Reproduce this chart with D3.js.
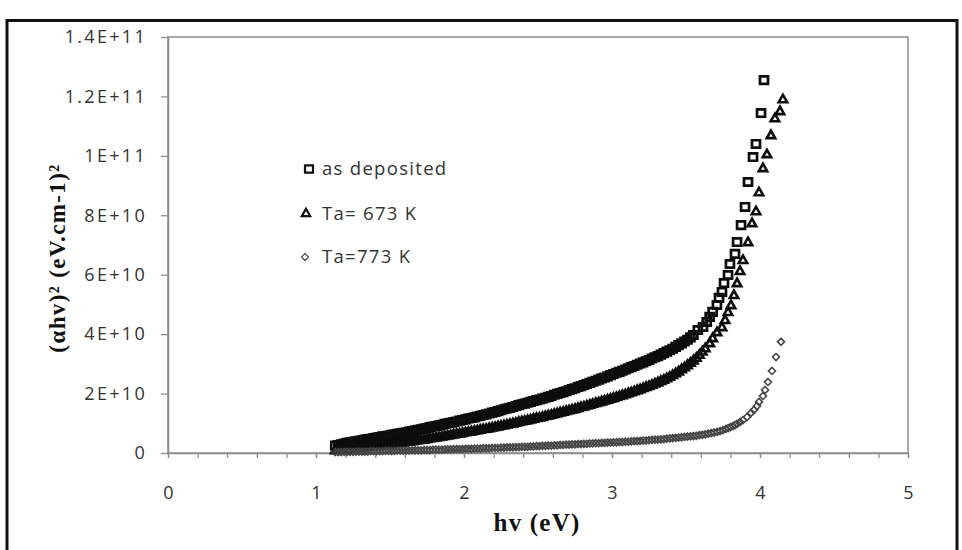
<!DOCTYPE html>
<html><head><meta charset="utf-8">
<script src="https://cdn.jsdelivr.net/npm/d3@7"></script>
<style>
html,body{margin:0;padding:0;background:#fff;}
svg{display:block;}
</style></head>
<body>
<svg id="c" width="962" height="550"></svg>
<script>
// ---- DATA (values in units of 1E+10 (eV.cm-1)^2) ----
const UNIT = 1e10;
const seriesNames = ["as deposited", "Ta= 673 K", "Ta=773 K"];
const hvDense = [
1.13,1.15,1.17,1.19,1.21,1.23,1.25,1.27,1.29,1.31,
1.33,1.35,1.37,1.39,1.41,1.43,1.45,1.47,1.49,1.51,
1.53,1.55,1.57,1.59,1.61,1.63,1.65,1.67,1.69,1.71,
1.73,1.75,1.77,1.79,1.81,1.83,1.85,1.87,1.89,1.91,
1.93,1.95,1.97,1.99,2.01,2.03,2.05,2.07,2.09,2.11,
2.13,2.15,2.17,2.19,2.21,2.23,2.25,2.27,2.29,2.31,
2.33,2.35,2.37,2.39,2.41,2.43,2.45,2.47,2.49,2.51,
2.53,2.55,2.57,2.59,2.61,2.63,2.65,2.67,2.69,2.71,
2.73,2.75,2.77,2.79,2.81,2.83,2.85,2.87,2.89,2.91,
2.93,2.95,2.97,2.99,3.01,3.03,3.05,3.07,3.09,3.11,
3.13,3.15,3.17,3.19,3.21,3.23,3.25,3.27,3.29,3.31,
3.33,3.35,3.37,3.39,3.41,3.43,3.45,3.47,3.49,3.51];
const asDepDense = [
0.25,0.27,0.29,0.32,0.34,0.36,0.38,0.39,0.41,0.43,
0.45,0.47,0.48,0.50,0.52,0.54,0.56,0.57,0.59,0.61,
0.63,0.65,0.66,0.68,0.70,0.72,0.74,0.76,0.78,0.80,
0.82,0.84,0.87,0.89,0.91,0.93,0.95,0.98,1.00,1.02,
1.04,1.06,1.09,1.11,1.13,1.16,1.18,1.20,1.23,1.25,
1.28,1.30,1.33,1.36,1.38,1.41,1.44,1.47,1.50,1.52,
1.55,1.58,1.61,1.64,1.66,1.69,1.72,1.75,1.78,1.80,
1.83,1.86,1.89,1.92,1.96,1.99,2.02,2.05,2.08,2.12,
2.15,2.18,2.22,2.25,2.29,2.32,2.36,2.40,2.43,2.47,
2.51,2.54,2.58,2.62,2.66,2.70,2.73,2.77,2.81,2.85,
2.89,2.93,2.97,3.01,3.05,3.09,3.13,3.18,3.22,3.26,
3.31,3.36,3.41,3.46,3.51,3.57,3.63,3.69,3.75,3.81];
const ta673Dense = [
0.10,0.11,0.12,0.13,0.15,0.16,0.17,0.18,0.19,0.20,
0.21,0.22,0.23,0.24,0.26,0.27,0.28,0.29,0.30,0.32,
0.33,0.34,0.35,0.36,0.38,0.39,0.40,0.42,0.43,0.45,
0.46,0.48,0.50,0.51,0.53,0.54,0.56,0.58,0.59,0.61,
0.63,0.65,0.66,0.68,0.70,0.72,0.73,0.75,0.77,0.79,
0.81,0.82,0.84,0.86,0.88,0.90,0.92,0.94,0.96,0.98,
1.00,1.02,1.05,1.07,1.09,1.11,1.13,1.16,1.18,1.20,
1.22,1.25,1.27,1.29,1.32,1.34,1.37,1.39,1.42,1.44,
1.47,1.49,1.52,1.55,1.57,1.60,1.63,1.66,1.69,1.71,
1.74,1.77,1.80,1.83,1.86,1.89,1.92,1.95,1.98,2.02,
2.05,2.08,2.12,2.15,2.19,2.23,2.26,2.30,2.34,2.38,
2.43,2.47,2.52,2.57,2.63,2.69,2.75,2.82,2.89,2.96];
const ta773Dense = [
0.03,0.03,0.03,0.04,0.04,0.04,0.04,0.05,0.05,0.05,
0.05,0.05,0.06,0.06,0.06,0.06,0.06,0.07,0.07,0.07,
0.07,0.08,0.08,0.08,0.08,0.08,0.09,0.09,0.09,0.09,
0.10,0.10,0.10,0.11,0.11,0.11,0.11,0.12,0.12,0.12,
0.13,0.13,0.13,0.13,0.14,0.14,0.14,0.15,0.15,0.15,
0.16,0.16,0.16,0.17,0.17,0.17,0.18,0.18,0.19,0.19,
0.19,0.20,0.20,0.21,0.21,0.21,0.22,0.22,0.23,0.23,
0.24,0.24,0.25,0.25,0.26,0.26,0.27,0.27,0.28,0.28,
0.29,0.29,0.30,0.30,0.31,0.31,0.32,0.32,0.33,0.33,
0.34,0.34,0.35,0.35,0.36,0.36,0.37,0.37,0.38,0.38,
0.39,0.40,0.40,0.41,0.42,0.42,0.43,0.44,0.45,0.45,
0.46,0.47,0.48,0.49,0.50,0.51,0.52,0.53,0.54,0.55];
// sparse high-energy tails
const hvAsDepTail = [3.53,3.55,3.58,3.615,3.64,3.66,3.68,3.709,3.723,3.743,3.757,3.784,3.797,3.831,3.845,3.872,3.899,3.919,3.953,3.973,4.007,4.027];
const asDepTail   = [3.89,3.97,4.14,4.24,4.41,4.58,4.75,4.98,5.22,5.42,5.72,5.99,6.36,6.70,7.10,7.67,8.28,9.12,9.96,10.40,11.44,12.55];
const hvTa673Tail = [3.53,3.55,3.57,3.59,3.61,3.63,3.66,3.68,3.709,3.743,3.764,3.784,3.804,3.824,3.845,3.865,3.885,3.919,3.946,3.973,3.993,4.02,4.047,4.074,4.101,4.135,4.155];
const ta673Tail   = [3.04,3.12,3.21,3.31,3.42,3.53,3.70,3.87,4.07,4.24,4.48,4.75,4.98,5.32,5.72,6.13,6.50,7.10,7.74,8.14,8.78,9.59,10.06,10.70,11.27,11.51,11.91];
const hvTa773Tail = [3.53,3.55,3.57,3.59,3.61,3.63,3.65,3.67,3.69,3.71,3.73,3.75,3.77,3.785,3.80,3.818,3.832,3.845,3.865,3.885,3.912,3.939,3.959,3.98,3.993,4.02,4.034,4.054,4.081,4.108,4.142];
const ta773Tail   = [0.56,0.57,0.58,0.60,0.61,0.63,0.65,0.67,0.69,0.71,0.74,0.77,0.81,0.84,0.87,0.91,0.94,0.98,1.04,1.11,1.21,1.35,1.45,1.58,1.72,1.92,2.12,2.39,2.76,3.23,3.74];
const xTickValues = [0,1,2,3,4,5];
const xTickLabels = ["0","1","2","3","4","5"];
const yTickValues = [0,2e10,4e10,6e10,8e10,1e11,1.2e11,1.4e11];
const yTickLabels = ["0","2E+10","4E+10","6E+10","8E+10","1E+11","1.2E+11","1.4E+11"];

// ---- CHART ----
const svg = d3.select("#c");
const x = d3.scaleLinear().domain([0,5]).range([168,908]);
const y = d3.scaleLinear().domain([0,1.4e11]).range([453,37]);
const axisGray = "#8c8c8c";

// outer frame
svg.append("rect").attr("x",7).attr("y",20.5).attr("width",950).attr("height",600)
  .attr("fill","none").attr("stroke","#111").attr("stroke-width",3);

// plot area frame
svg.append("rect").attr("x",x(0)).attr("y",y(1.4e11)).attr("width",x(5)-x(0)).attr("height",y(0)-y(1.4e11))
  .attr("fill","none").attr("stroke",axisGray).attr("stroke-width",1.5);

// x axis minor ticks
const minor = d3.range(0,26).map(i=>i*0.2);
const gxMinor = svg.append("g").attr("transform",`translate(0,${y(0)})`)
  .call(d3.axisBottom(x).tickValues(minor).tickSize(5).tickSizeOuter(0).tickFormat(""));
gxMinor.select(".domain").attr("stroke",axisGray).attr("stroke-width",1.5);
gxMinor.selectAll(".tick line").attr("stroke",axisGray).attr("stroke-width",1.3);

// x axis labels
const gx = svg.append("g").attr("transform",`translate(0,${y(0)})`)
  .call(d3.axisBottom(x).tickValues(xTickValues).tickSize(5).tickSizeOuter(0).tickPadding(28)
    .tickFormat((d,i)=>xTickLabels[i]));
gx.select(".domain").remove();
gx.selectAll(".tick line").attr("stroke",axisGray).attr("stroke-width",1.3);
gx.selectAll(".tick text").attr("font-family","'Open Sans', sans-serif").attr("font-size",18).attr("fill","#333");

// y axis
const gy = svg.append("g").attr("transform",`translate(${x(0)},0)`)
  .call(d3.axisLeft(y).tickValues(yTickValues).tickSize(7).tickSizeOuter(0).tickPadding(14)
    .tickFormat((d,i)=>yTickLabels[i]));
gy.select(".domain").attr("stroke",axisGray).attr("stroke-width",1.5);
gy.selectAll(".tick line").attr("stroke",axisGray).attr("stroke-width",1.3);
gy.selectAll(".tick text").attr("font-family","'Open Sans', sans-serif").attr("font-size",18)
  .attr("letter-spacing","2.3px").attr("fill","#333");

// marker shapes
const squarePath = "M-4,-3.7H4V3.7H-4Z";
const trianglePath = "M0,-4.3L4.2,3.1H-4.2Z";
const diamondPath = "M0,-3.5L3.5,0L0,3.5L-3.5,0Z";

function series(hvA, vA, hvB, vB){
  return hvA.map((h,i)=>({hv:h, v:vA[i]*UNIT})).concat(hvB.map((h,i)=>({hv:h, v:vB[i]*UNIT})));
}
const sAsDep = series(hvDense, asDepDense, hvAsDepTail, asDepTail);
const s673 = series(hvDense, ta673Dense, hvTa673Tail, ta673Tail);
const s773 = series(hvDense, ta773Dense, hvTa773Tail, ta773Tail);

function drawSeries(data, path, stroke, sw){
  svg.append("g").selectAll("path").data(data).join("path")
    .attr("d", path)
    .attr("transform", d=>`translate(${x(d.hv)},${y(d.v)})`)
    .attr("fill","none").attr("stroke",stroke).attr("stroke-width",sw);
}
drawSeries(sAsDep, squarePath, "#0d0d0d", 2.7);
drawSeries(s673, trianglePath, "#0d0d0d", 2.6);
drawSeries(s773, diamondPath, "#444", 1.6);

// legend
const legend = [
  {name:seriesNames[0], path:squarePath, stroke:"#111", sw:2.2, mx:309, my:169, ty:175},
  {name:seriesNames[1], path:trianglePath, stroke:"#111", sw:2.2, mx:306, my:213, ty:220},
  {name:seriesNames[2], path:diamondPath, stroke:"#555", sw:1.3, mx:305, my:257, ty:263}
];
const lg = svg.append("g");
legend.forEach(l=>{
  lg.append("path").attr("d",l.path).attr("transform",`translate(${l.mx},${l.my})`)
    .attr("fill","none").attr("stroke",l.stroke).attr("stroke-width",l.sw);
  lg.append("text").attr("x",322).attr("y",l.ty).text(l.name)
    .attr("font-family","'Open Sans', sans-serif").attr("font-size",18.5)
    .attr("letter-spacing","1.3px").attr("fill","#333");
});

// axis titles
svg.append("text").attr("x",537).attr("y",531).attr("text-anchor","middle")
  .attr("font-family","'Liberation Serif', 'Times New Roman', serif").attr("font-weight","bold")
  .attr("font-size",25).attr("letter-spacing","1.2px").attr("fill","#111").text("hv (eV)");

svg.append("text").attr("transform","translate(65,258) rotate(-90)").attr("text-anchor","middle")
  .attr("font-family","'Liberation Serif', 'Times New Roman', serif").attr("font-weight","bold")
  .attr("font-size",23).attr("letter-spacing","1.4px").attr("fill","#111").text("(αhv)² (eV.cm-1)²");
</script>
</body></html>
